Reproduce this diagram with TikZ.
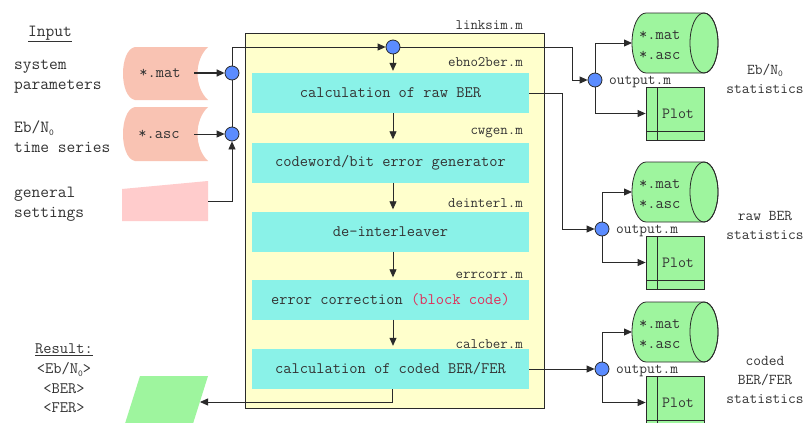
\documentclass[tikz,border=0pt]{standalone}
\usepackage{fontspec}
\renewcommand{\familydefault}{\ttdefault}
\usetikzlibrary{arrows.meta}
\definecolor{txt}{HTML}{333333}
\definecolor{lc}{HTML}{2A2A2A}
\definecolor{pinkA}{HTML}{F9C3B3}
\definecolor{pinkB}{HTML}{FFCCCC}
\definecolor{yel}{HTML}{FFFFCC}
\definecolor{cya}{HTML}{8AF2E8}
\definecolor{grn}{HTML}{9EF59E}
\definecolor{blu}{HTML}{5B8CFF}
\definecolor{redt}{HTML}{E0305A}
\newcommand\subz{\raisebox{-0.35ex}{\fontsize{9}{9}\selectfont 0}}
\tikzset{
  lbl/.style={text=txt, font=\fontsize{17}{20}\selectfont, inner sep=0pt},
  flab/.style={text=txt, font=\fontsize{14.5}{16}\selectfont, inner sep=0pt, anchor=east},
  proc/.style={fill=cya, minimum width=277pt, minimum height=40pt, text=txt, font=\fontsize{16}{18}\selectfont, inner sep=0pt},
  dot/.style={circle, fill=blu, draw=lc, line width=0.8pt, minimum size=14pt, inner sep=0pt},
  arr/.style={-{Triangle[length=8pt,width=7pt]}, draw=lc, line width=0.8pt},
  ln/.style={draw=lc, line width=0.8pt},
  plotbox/.style={draw=lc, fill=grn, line width=0.8pt, minimum width=58pt, minimum height=53pt, inner sep=0pt, text=txt, font=\fontsize{15.5}{18}\selectfont},
  stat/.style={text=txt, font=\fontsize{15}{19}\selectfont, align=center, inner sep=0pt}
}
\begin{document}
\begin{tikzpicture}[x=1pt,y=-1pt]
\useasboundingbox (0,0) rectangle (804,423);
\fill[white] (0,0) rectangle (804,423);

% ---------- left inputs ----------
\node[lbl] (inp) at (50,34) {\underline{Input}};
\node[lbl, anchor=west, align=left] (sys) at (14,76.5) {system\\parameters};
\node[lbl, anchor=west, align=left] (ebn) at (14,137) {Eb/N\subz\\time series};
\node[lbl, anchor=west, align=left] (gen) at (14,204) {general\\settings};

\fill[pinkA] (135,47) -- (208,47) .. controls (194,60) and (194,87) .. (208,100) -- (135,100) .. controls (119,97) and (119,50) .. (135,47) -- cycle;
\fill[pinkA] (135,107) -- (208,107) .. controls (194,120) and (194,148) .. (208,161) -- (135,161) .. controls (119,158) and (119,110) .. (135,107) -- cycle;
\fill[pinkB] (122,189) -- (208,181) -- (208,221) -- (122,221) -- cycle;
\node[text=txt, font=\fontsize{16}{18}\selectfont, inner sep=0pt] (mat) at (160,73) {*.mat};
\node[text=txt, font=\fontsize{16}{18}\selectfont, inner sep=0pt] (asc) at (159,134) {*.asc};
\coordinate (matR) at (194,73);
\coordinate (ascR) at (194,134);
\coordinate (gsR) at (208,201);

% ---------- main box ----------
\draw[fill=yel, draw=lc, line width=0.8pt] (245,33) rectangle (544,408);
\node[flab, anchor=south east] (linksim) at (523,30) {linksim.m};

\node[proc] (b1) at (390.5,93) {calculation of raw BER};
\node[proc] (b2) at (390.5,162.5) {codeword/bit error generator};
\node[proc] (b3) at (390.5,231.5) {de-interleaver};
\node[proc] (b4) at (390.5,299.5) {error correction \textcolor{redt}{(block code)}};
\node[proc] (b5) at (390.5,369) {calculation of coded BER/FER};

\node[flab] (l1) at (523,62) {ebno2ber.m};
\node[flab] (l2) at (523,133) {cwgen.m};
\node[flab] (l3) at (523,203) {deinterl.m};
\node[flab] (l4) at (523,275) {errcorr.m};
\node[flab] (l5) at (523,344) {calcber.m};

\node[dot] (c1) at (232,73) {};
\node[dot] (c2) at (232,134) {};
\node[dot] (c3) at (393,47) {};

\draw[arr, line width=1.3pt] (matR) -- (c1);
\draw[arr] (ascR) -- (c2);
\draw[arr] (gsR) -| (c2.south);
\draw[ln] (c2) -- (c1);
\draw[arr] (c1.north) |- (c3.west);
\draw[arr, shorten >=2pt] (c3.south) -- (b1.north -| c3.south);
\draw[arr, shorten >=3pt] (b1.south -| c3) -- (b2.north -| c3);
\draw[arr, shorten >=2pt] (b2.south -| c3) -- (b3.north -| c3);
\draw[arr, shorten >=2pt] (b3.south -| c3) -- (b4.north -| c3);
\draw[arr, shorten >=3pt] (b4.south -| c3) -- (b5.north -| c3);

% ---------- result ----------
\node[lbl, font=\fontsize{16}{18}\selectfont] (res) at (64,350) {\underline{Result:}};
\node[lbl, font=\fontsize{16}{19.5}\selectfont, align=center] (resv) at (64,388) {<Eb/N\subz>\\<BER>\\<FER>};
\fill[grn] (140,376) -- (208,376) -- (191,430) -- (123,430) -- cycle;
\coordinate (resR) at (200,402);
\coordinate (bend) at (392,402);
\draw[arr] (b5.south -| bend) -- (bend) -- (resR);

% ---------- output groups ----------
\foreach \oy/\cx/\n in {0/595/1, 149/602/2, 289/602/3}{
  \fill[grn] (646,13+\oy) -- (704,13+\oy) arc (-90:90:14 and 30) -- (646,73+\oy) arc (90:270:14 and 30) -- cycle;
  \draw[draw=lc, line width=0.8pt] (646,13+\oy) -- (704,13+\oy) arc (-90:90:14 and 30) -- (646,73+\oy) arc (90:270:14 and 30) -- cycle;
  \draw[draw=lc, line width=0.8pt] (704,43+\oy) ellipse (14 and 30);
  \node[text=txt, font=\fontsize{16}{20}\selectfont, align=left, anchor=west, inner sep=0pt] (cyl\n) at (639,45+\oy) {*.mat\\*.asc};
  \coordinate (cw\n) at (632,43+\oy);
  \node[plotbox] (plot\n) at (675,113.5+\oy) {\hspace*{6pt}Plot};
  \draw[draw=lc, line width=0.8pt] (657,87+\oy) -- (657,140+\oy);
  \draw[draw=lc, line width=0.8pt] (646,131+\oy) -- (704,131+\oy);
  \node[dot] (o\n) at (\cx,80+\oy) {};
  \node[text=txt, font=\fontsize{15}{16}\selectfont, anchor=west, inner sep=0pt] (om\n) at (\cx+14,82+\oy) {output.m};
  \draw[arr] (o\n.north) |- (cw\n);
  \draw[arr] (o\n.south) |- (plot\n.west);
}

\coordinate (k1) at (572,47);
\coordinate (k2) at (562,93);
\draw[arr] (c3.east) -- (k1) |- (o1.west);
\draw[arr] (b1.east) -- (k2) |- (o2.west);
\draw[arr] (b5.east) -- (o3.west);

\node[stat] (s1) at (765,79) {Eb/N\subz\\statistics};
\node[stat] (s2) at (765,225) {raw BER\\statistics};
\node[stat] (s3) at (765,380) {coded\\BER/FER\\statistics};
\end{tikzpicture}
\end{document}
